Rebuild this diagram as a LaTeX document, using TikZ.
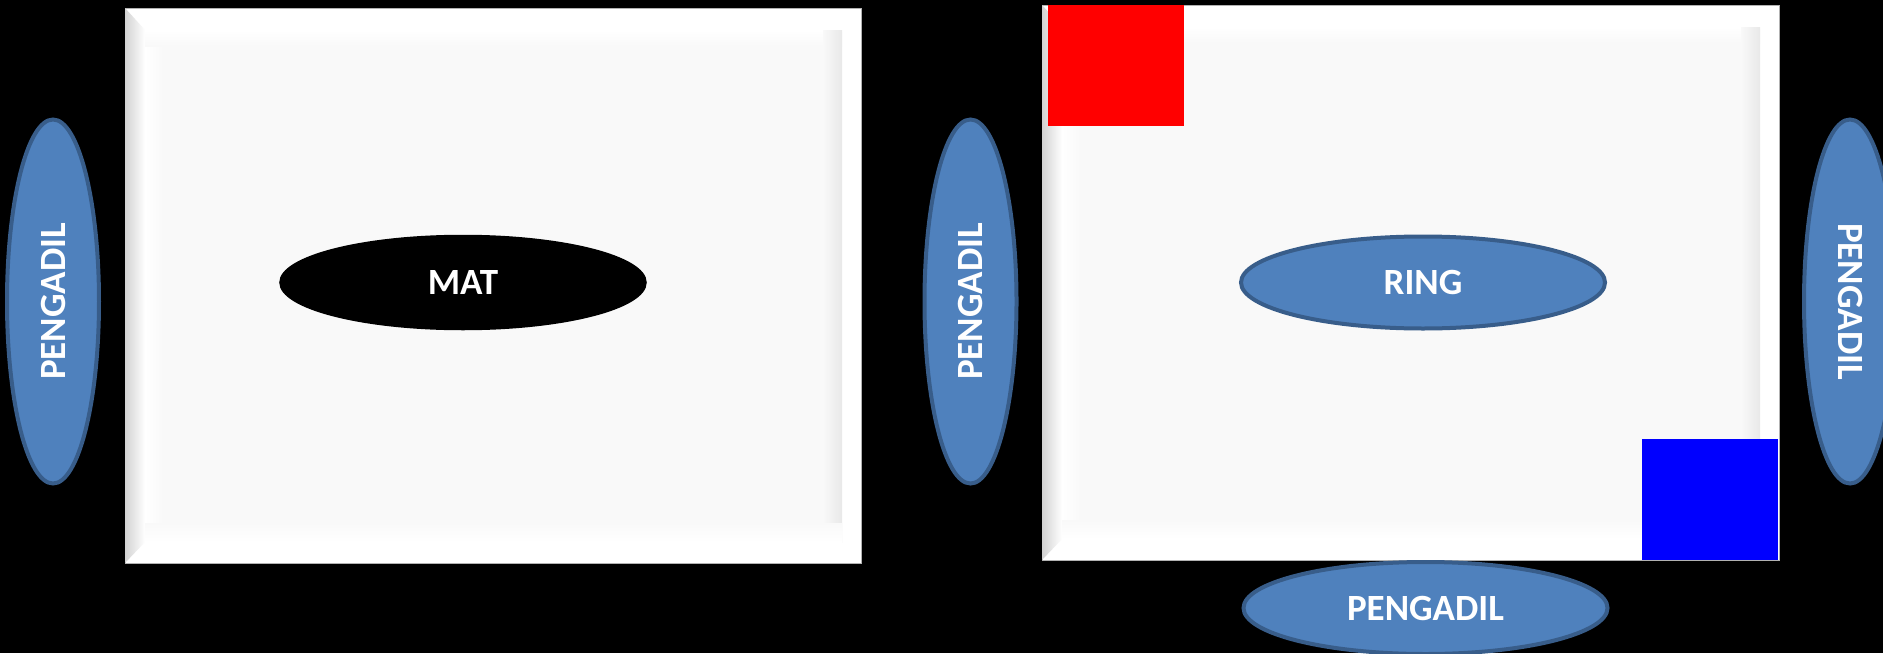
\documentclass[tikz,border=0pt]{standalone}
\usepackage{fontspec}
\setmainfont{Carlito}
\usetikzlibrary{shapes.geometric}

\definecolor{biruPengadil}{RGB}{79,129,189}
\definecolor{garisPengadil}{RGB}{56,93,138}
\definecolor{mukaPapan}{RGB}{249,249,249}

\tikzset{every picture/.style={line width=0.75pt}}
\tikzset{
  pengadil/.style={ellipse, fill=biruPengadil, draw=garisPengadil, line width=2pt, inner sep=0pt, text=white, font=\bfseries\fontsize{18.5}{22}\selectfont},
  tikar/.style={ellipse, fill=black, draw=black, inner sep=0pt, text=white, font=\bfseries\fontsize{18.5}{22}\selectfont}
}

\begin{document}
\begin{tikzpicture}[x=0.5pt,y=0.5pt,yscale=-1,xscale=1]
%set diagram at 0,0 with size 1883 x 653
\useasboundingbox (0,0) rectangle (1883,653);
\fill[black] (0,0) rectangle (1883,653);

%Shape: Frame (dua papan)
\foreach \xa/\ya/\xb/\yb in {125/8/861/563,1042/5/1779/560}{
  \draw[draw=gray!60, line width=0.5pt, fill=white] (\xa,\ya) rectangle (\xb,\yb);
  \shade[left color=gray!35, right color=white] (\xa,\ya) -- (\xa+20,\ya+22) -- (\xa+20,\yb-21) -- (\xa,\yb) -- cycle;
  \fill[mukaPapan] (\xa+20,\ya+22) rectangle (\xb-19,\yb-21);
  \shade[left color=white, right color=mukaPapan] (\xa+20,\ya+22) rectangle (\xa+38,\yb-21);
  \shade[top color=white, bottom color=mukaPapan] (\xa+20,\ya+22) rectangle (\xb-19,\ya+38);
  \shade[left color=mukaPapan, right color=gray!18] (\xb-38,\ya+22) rectangle (\xb-19,\yb-21);
  \shade[top color=mukaPapan, bottom color=white] (\xa+20,\yb-40) rectangle (\xb-19,\yb-21);
}

%Shape: Rectangle (sudut merah)
\fill[red] (1048,5) rectangle (1184,126);
%Shape: Rectangle (sudut biru)
\fill[blue] (1642,439) rectangle (1778,560);

% Ellipse Node
\node[tikar, minimum width=183pt, minimum height=47pt] (mat) at (463,282.5) {MAT};
% Ellipse Node
\node[pengadil, minimum width=182pt, minimum height=46pt] (ring) at (1423,282.5) {RING};
% Ellipse Node
\node[pengadil, minimum width=182pt, minimum height=46pt, rotate=90] (pengadilKiri) at (53,301.5) {PENGADIL};
% Ellipse Node
\node[pengadil, minimum width=182pt, minimum height=46pt, rotate=90] (pengadilTengah) at (970.5,301.5) {PENGADIL};
% Ellipse Node
\node[pengadil, minimum width=182pt, minimum height=46pt, rotate=-90] (pengadilKanan) at (1850,301.5) {PENGADIL};
% Ellipse Node
\node[pengadil, minimum width=182pt, minimum height=46pt] (pengadilBawah) at (1425.5,608) {PENGADIL};

\end{tikzpicture}
\end{document}
